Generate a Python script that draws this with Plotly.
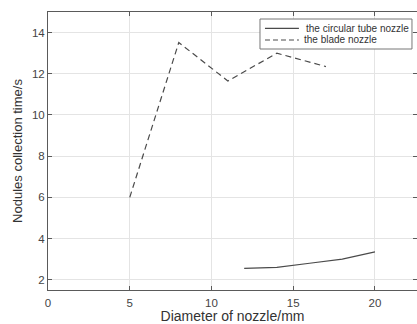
import plotly.graph_objects as go

circ_x = [12, 14, 16, 18, 20]
circ_y = [2.55, 2.6, 2.8, 3.0, 3.35]
blade_x = [5, 8, 11, 14, 17]
blade_y = [6.0, 13.52, 11.65, 13.0, 12.35]
names = ["the circular tube nozzle", "the blade nozzle"]

x_ticks = [0, 5, 10, 15, 20]
y_ticks = [2, 4, 6, 8, 10, 12, 14]

line_col = "#4a4a4a"
dash_pat = "6px,4px"
fig = go.Figure()
fig.add_trace(go.Scatter(x=circ_x, y=circ_y, mode="lines", name=names[0],
                         line=dict(color=line_col, width=1.2), showlegend=False))
fig.add_trace(go.Scatter(x=blade_x, y=blade_y, mode="lines", name=names[1],
                         line=dict(color=line_col, width=1.2, dash=dash_pat), showlegend=False))

font = "Liberation Sans, Arial, sans-serif"
axis_common = dict(showgrid=True, gridcolor="#e4e4e4", gridwidth=1, zeroline=False,
                   showline=True, linecolor="#5a5a5a", linewidth=1, mirror="ticks",
                   ticks="inside", ticklen=4, tickcolor="#5a5a5a",
                   tickfont=dict(family=font, size=11.5, color="#444"))

# manual legend box (paper coordinates)
lx0, lx1, ly0, ly1 = 0.5745, 0.9864, 0.8669, 0.9748
row_y = [0.9414, 0.8993]
fig.add_shape(type="rect", xref="paper", yref="paper", x0=lx0, x1=lx1, y0=ly0, y1=ly1,
              line=dict(color="#777", width=1), fillcolor="white", layer="above")
fig.add_shape(type="line", xref="paper", yref="paper", x0=0.588, x1=0.680, y0=row_y[0], y1=row_y[0],
              line=dict(color=line_col, width=1.2), layer="above")
fig.add_shape(type="line", xref="paper", yref="paper", x0=0.588, x1=0.680, y0=row_y[1], y1=row_y[1],
              line=dict(color=line_col, width=1.2, dash="5px,3px"), layer="above")
for nm, yy, xx in zip(names, row_y, [0.6938, 0.6883]):
    fig.add_annotation(xref="paper", yref="paper", x=xx, y=yy, xanchor="left", yanchor="middle",
                       text=nm, showarrow=False, font=dict(family=font, size=10, color="#333"))

fig.update_layout(
    width=417, height=324,
    margin=dict(l=48, r=0, t=12, b=34),
    paper_bgcolor="white", plot_bgcolor="white",
    xaxis=dict(range=[0, 22.57], tickvals=x_ticks, ticklabelstandoff=2,
               title=dict(text="Diameter of nozzle/mm", font=dict(family=font, size=14, color="#333"), standoff=3),
               **axis_common),
    yaxis=dict(range=[1.5, 15], tickvals=y_ticks,
               title=dict(text="Nodules collection time/s", font=dict(family=font, size=13, color="#333"), standoff=6),
               **axis_common),
    showlegend=False,
)
fig.write_html("out.html")
